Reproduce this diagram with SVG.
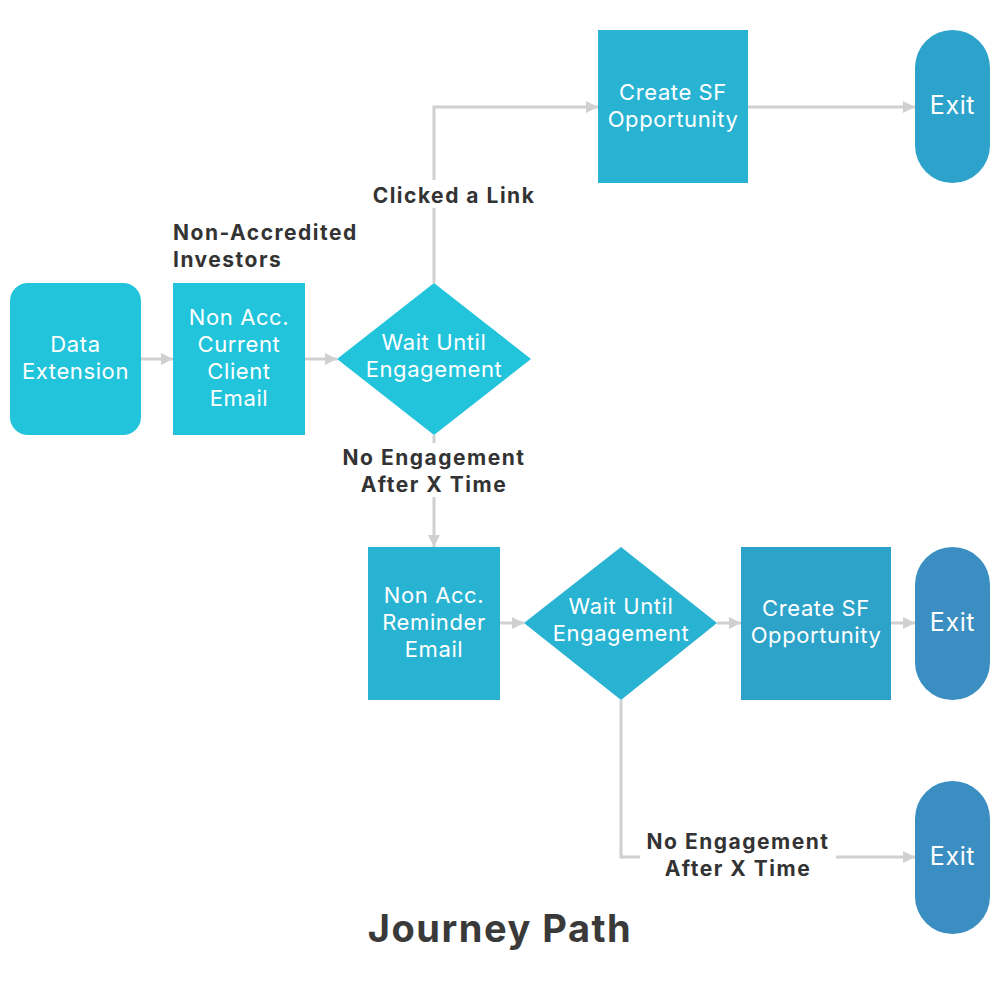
<svg xmlns="http://www.w3.org/2000/svg" width="1000" height="1000" viewBox="0 0 1000 1000">
<defs>
<style>
.nt{font-family:Inter,"Open Sans","Liberation Sans",sans-serif;font-size:22px;letter-spacing:0.6px;fill:#fff;text-anchor:middle}
.lb{font-family:Inter,"Open Sans","Liberation Sans",sans-serif;font-size:21px;letter-spacing:1.5px;font-weight:700;fill:#333;text-anchor:middle}
.ln{fill:none;stroke:#d0d0d0;stroke-width:3}
</style>
<marker id="ah" viewBox="0 0 12 12" refX="12" refY="6" markerWidth="12" markerHeight="12" markerUnits="userSpaceOnUse" orient="auto">
<path d="M0,0 L12,6 L0,12 Z" fill="#d0d0d0"/>
</marker>
</defs>
<rect width="1000" height="1000" fill="#fff"/>
<g id="connectors">
<line class="ln" x1="141" y1="359" x2="173" y2="359" marker-end="url(#ah)"/>
<line class="ln" x1="305" y1="359" x2="337" y2="359" marker-end="url(#ah)"/>
<polyline class="ln" points="434,283 434,107 598,107" marker-end="url(#ah)"/>
<line class="ln" x1="748" y1="107" x2="915" y2="107" marker-end="url(#ah)"/>
<line class="ln" x1="434" y1="435" x2="434" y2="547" marker-end="url(#ah)"/>
<line class="ln" x1="500" y1="623" x2="524" y2="623" marker-end="url(#ah)"/>
<line class="ln" x1="717" y1="623" x2="741" y2="623" marker-end="url(#ah)"/>
<line class="ln" x1="891" y1="623" x2="915" y2="623" marker-end="url(#ah)"/>
<polyline class="ln" points="621,700 621,857 915,857" marker-end="url(#ah)"/>
</g>
<g id="labels">
<rect x="365" y="180" width="180" height="28" fill="#fff"/>
<text class="lb" x="454" y="203">Clicked a Link</text>
<text class="lb" x="173" y="240" style="text-anchor:start">Non-Accredited</text>
<text class="lb" x="173" y="267" style="text-anchor:start">Investors</text>
<rect x="335" y="443" width="198" height="54" fill="#fff"/>
<text class="lb" x="434" y="465">No Engagement</text>
<text class="lb" x="434" y="492">After X Time</text>
<rect x="640" y="828" width="196" height="54" fill="#fff"/>
<text class="lb" x="738" y="849">No Engagement</text>
<text class="lb" x="738" y="876">After X Time</text>
<text x="500" y="942" style="font-family:Inter,'Open Sans','Liberation Sans',sans-serif;font-size:38px;letter-spacing:1.5px;font-weight:700;fill:#3a3a3a;text-anchor:middle">Journey Path</text>
</g>
<g id="data-extension">
<rect x="10" y="283" width="131" height="152" rx="18" fill="#22c4dc"/>
<text class="nt" x="75.5" y="352">Data</text>
<text class="nt" x="75.5" y="379">Extension</text>
</g>
<g id="non-acc-current">
<rect x="173" y="283" width="132" height="152" fill="#22c4dc"/>
<text class="nt" x="239" y="325">Non Acc.</text>
<text class="nt" x="239" y="352">Current</text>
<text class="nt" x="239" y="379">Client</text>
<text class="nt" x="239" y="406">Email</text>
</g>
<g id="wait-1">
<polygon points="434,283 531,359 434,435 337,359" fill="#22c4dc"/>
<text class="nt" x="434" y="350">Wait Until</text>
<text class="nt" x="434" y="377">Engagement</text>
</g>
<g id="create-sf-1">
<rect x="598" y="30" width="150" height="153" fill="#29b3d3"/>
<text class="nt" x="673" y="100">Create SF</text>
<text class="nt" x="673" y="127">Opportunity</text>
</g>
<g id="exit-1">
<rect x="915" y="30" width="75" height="153" rx="37.5" fill="#2da3cb"/>
<text class="nt" x="952.5" y="114" style="font-size:25px">Exit</text>
</g>
<g id="non-acc-reminder">
<rect x="368" y="547" width="132" height="153" fill="#29b3d3"/>
<text class="nt" x="434" y="603">Non Acc.</text>
<text class="nt" x="434" y="630">Reminder</text>
<text class="nt" x="434" y="657">Email</text>
</g>
<g id="wait-2">
<polygon points="621,547 717,623 621,700 524,623" fill="#29b3d3"/>
<text class="nt" x="621" y="614">Wait Until</text>
<text class="nt" x="621" y="641">Engagement</text>
</g>
<g id="create-sf-2">
<rect x="741" y="547" width="150" height="153" fill="#2ea3ca"/>
<text class="nt" x="816" y="616">Create SF</text>
<text class="nt" x="816" y="643">Opportunity</text>
</g>
<g id="exit-2">
<rect x="915" y="547" width="75" height="153" rx="37.5" fill="#3a8ec2"/>
<text class="nt" x="952.5" y="631" style="font-size:25px">Exit</text>
</g>
<g id="exit-3">
<rect x="915" y="781" width="75" height="153" rx="37.5" fill="#3a8ec2"/>
<text class="nt" x="952.5" y="865" style="font-size:25px">Exit</text>
</g>
</svg>
